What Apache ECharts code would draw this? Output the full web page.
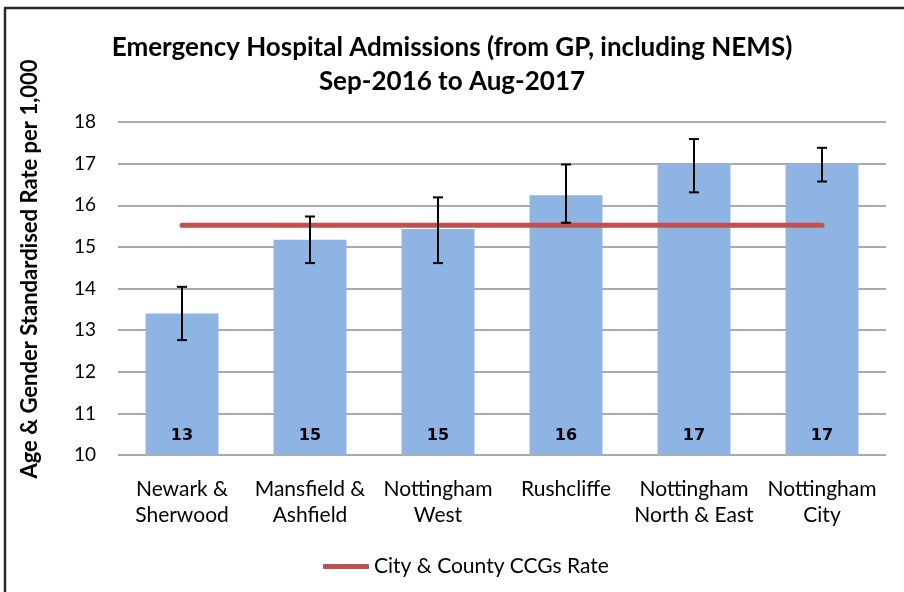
<!DOCTYPE html>
<html>
<head>
<meta charset="utf-8">
<script src="https://cdn.jsdelivr.net/npm/echarts@6/dist/echarts.min.js"></script>
<style>
html,body{margin:0;padding:0;background:#fff;}
#chart{width:904px;height:592px;}
</style>
</head>
<body>
<div id="chart"></div>
<script>
const categories = ['Newark &\nSherwood', 'Mansfield &\nAshfield', 'Nottingham\nWest', 'Rushcliffe', 'Nottingham\nNorth & East', 'Nottingham\nCity'];
const rates = [13.40, 15.17, 15.43, 16.24, 17.00, 17.00];
const errLow = [12.76, 14.61, 14.61, 15.58, 16.31, 16.57];
const errHigh = [14.04, 15.73, 16.19, 16.98, 17.59, 17.38];
const cityCountyRate = [15.52, 15.52, 15.52, 15.52, 15.52, 15.52];
const yTicks = { min: 10, max: 18, interval: 1 };

const FONT = 'Lato, "Open Sans", sans-serif';
const chart = echarts.init(document.getElementById('chart'));
const errData = categories.map((c, i) => [i, errLow[i], errHigh[i]]);

chart.setOption({
  animation: false,
  title: {
    text: 'Emergency Hospital Admissions (from GP, including NEMS)\nSep-2016 to Aug-2017',
    left: 'center',
    top: 26,
    textStyle: { fontFamily: FONT, fontWeight: 'bold', fontSize: 26, lineHeight: 34, color: '#000' }
  },
  grid: { left: 118, right: 18, top: 122, bottom: 137 },
  legend: {
    data: ['City & County CCGs Rate'],
    left: 318, top: 551,
    icon: 'roundRect', itemWidth: 46, itemHeight: 5, itemGap: 6,
    textStyle: { fontFamily: FONT, fontSize: 21, color: '#000' }
  },
  xAxis: {
    type: 'category',
    data: categories,
    axisTick: { show: false },
    axisLine: { show: false },
    axisLabel: { fontFamily: FONT, fontSize: 21, color: '#000', lineHeight: 26, margin: 21, interval: 0 }
  },
  yAxis: {
    type: 'value',
    min: yTicks.min, max: yTicks.max, interval: yTicks.interval,
    axisLine: { show: false },
    axisTick: { show: false },
    axisLabel: { fontFamily: FONT, fontSize: 19, color: '#000', margin: 22 },
    splitLine: { lineStyle: { color: '#8e8e8e', width: 1.5 } }
  },
  series: [
    {
      type: 'bar',
      name: 'Rate',
      data: rates,
      barWidth: '57%',
      itemStyle: { color: '#8EB4E3' },
      label: {
        show: true, position: 'insideBottom', distance: 11,
        formatter: p => Math.round(p.value),
        fontFamily: '"DejaVu Sans", sans-serif', fontWeight: 'bold', fontSize: 16, color: '#000'
      },
      z: 2
    },
    {
      type: 'line',
      name: 'City & County CCGs Rate',
      data: cityCountyRate,
      showSymbol: false,
      symbol: 'none',
      lineStyle: { color: '#C0504D', width: 5, cap: 'round' },
      itemStyle: { color: '#C0504D' },
      z: 3
    },
    {
      type: 'custom',
      name: 'err',
      data: errData,
      z: 4,
      renderItem: function (params, api) {
        const x = api.value(0);
        const lo = api.coord([x, api.value(1)]);
        const hi = api.coord([x, api.value(2)]);
        const hw = 5;
        const st = { stroke: '#000', lineWidth: 2 };
        return {
          type: 'group',
          children: [
            { type: 'line', shape: { x1: lo[0], y1: lo[1], x2: hi[0], y2: hi[1] }, style: st },
            { type: 'line', shape: { x1: lo[0] - hw, y1: lo[1], x2: lo[0] + hw, y2: lo[1] }, style: st },
            { type: 'line', shape: { x1: hi[0] - hw, y1: hi[1], x2: hi[0] + hw, y2: hi[1] }, style: st }
          ]
        };
      }
    }
  ],
  graphic: [
    { type: 'line', shape: { x1: 4, y1: 8, x2: 904, y2: 8 }, style: { stroke: '#2a2a2a', lineWidth: 2.5 } },
    { type: 'line', shape: { x1: 5, y1: 8, x2: 5, y2: 592 }, style: { stroke: '#2a2a2a', lineWidth: 2.5 } },
    {
      type: 'text', x: 30, y: 269, rotation: Math.PI / 2,
      style: {
        text: 'Age & Gender Standardised Rate per 1,000',
        font: 'bold 22px ' + FONT, fill: '#000',
        textAlign: 'center', textVerticalAlign: 'middle'
      }
    }
  ]
});
</script>
</body>
</html>
